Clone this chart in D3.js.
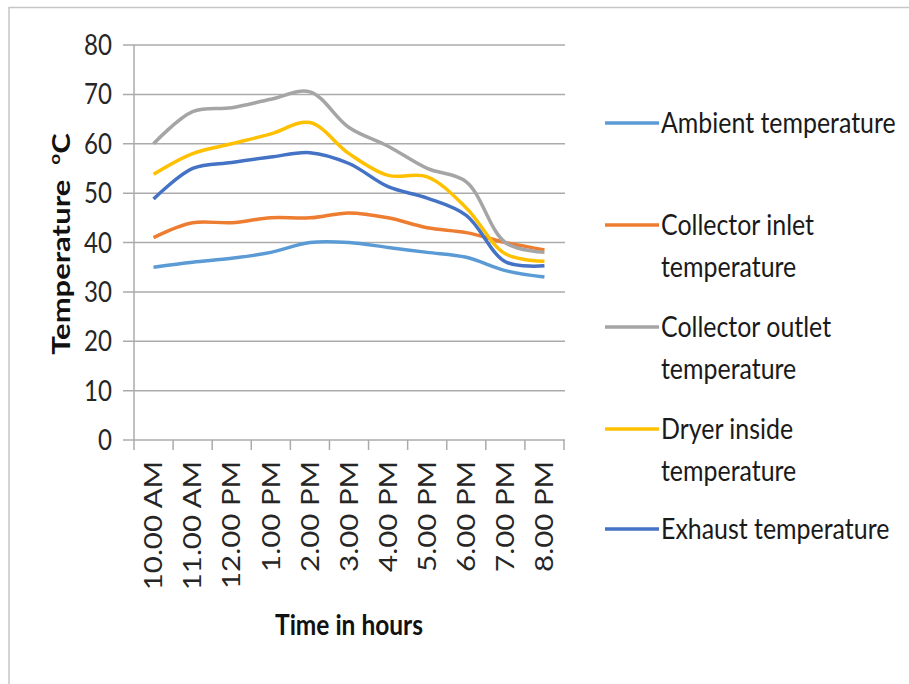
<!DOCTYPE html>
<html><head><meta charset="utf-8">
<script src="https://cdn.jsdelivr.net/npm/d3@7"></script>
<style>html,body{margin:0;padding:0;background:#fff;}svg{display:block;}</style>
</head><body>
<script>
const categories = ["10.00 AM","11.00 AM","12.00 PM","1.00 PM","2.00 PM","3.00 PM","4.00 PM","5.00 PM","6.00 PM","7.00 PM","8.00 PM"];
const ambient  = [35, 36, 36.8, 38, 40, 40, 39, 38, 37, 34.3, 33];
const inlet    = [41, 44, 44, 45, 45, 46, 45, 43, 42, 40, 38.5];
const outlet   = [60, 66.5, 67.3, 69, 70.5, 63.3, 59.5, 55, 52.3, 40, 38];
const dryer    = [53.8, 58, 60, 62, 64.3, 58, 53.6, 53.3, 47, 37.7, 36.2];
const exhaust  = [48.8, 55, 56.2, 57.3, 58.2, 56, 51.3, 49, 45.5, 36.1, 35.3];
const seriesNames = ["Ambient temperature","Collector inlet temperature","Collector outlet temperature","Dryer inside temperature","Exhaust temperature"];
const legendLines = [["Ambient temperature"],["Collector inlet","temperature"],["Collector outlet","temperature"],["Dryer inside","temperature"],["Exhaust temperature"]];
const yTicks = [0,10,20,30,40,50,60,70,80];
const colors = ["#5B9BD5","#ED7D31","#A5A5A5","#FFC000","#4472C4"];
const seriesValues = [ambient, inlet, outlet, dryer, exhaust];

const W = 909, H = 684, SX = 0.86;
const svg = d3.select("body").append("svg").attr("width", W).attr("height", H);
const font = "Lato, 'Open Sans', sans-serif";

// border
svg.append("path").attr("d", `M9,${H} L9,7.5 L${W},7.5`).attr("fill","none").attr("stroke","#c6c6c6").attr("stroke-width",1.5);

const x = d3.scaleBand().domain(categories).range([134, 564]).padding(0);
const y = d3.scaleLinear().domain([0, 80]).range([440, 45]);

// gridlines
svg.append("g").selectAll("line").data(yTicks).join("line")
  .attr("x1", 123).attr("x2", 565)
  .attr("y1", d => y(d)).attr("y2", d => y(d))
  .attr("stroke", "#ababab").attr("stroke-width", 1.5);

// y axis line
svg.append("line").attr("x1",134).attr("x2",134).attr("y1",y(80)).attr("y2",y(0)).attr("stroke","#ababab").attr("stroke-width",1.5);

// x ticks
const edges = categories.map(c => x(c)).concat([x(categories[categories.length-1]) + x.bandwidth()]);
svg.append("g").selectAll("line").data(edges).join("line")
  .attr("x1", d => d).attr("x2", d => d).attr("y1", y(0)).attr("y2", y(0) + 10)
  .attr("stroke", "#ababab").attr("stroke-width", 1.5);

// y tick labels
svg.append("g").selectAll("g").data(yTicks).join("g")
  .attr("transform", d => `translate(112,${y(d) + 10}) scale(${SX},1)`)
  .append("text").attr("text-anchor","end").attr("font-family",font).attr("font-size",28).attr("fill","#262626")
  .text(d => d);

// x tick labels
svg.append("g").selectAll("g").data(categories).join("g")
  .attr("transform", d => `translate(${x(d) + x.bandwidth()/2},461) scale(0.82,1) rotate(-90)`)
  .append("text").attr("text-anchor","end").attr("dy","0.36em").attr("font-family",font).attr("font-size",29.5).attr("fill","#262626")
  .text(d => d);

// axis titles
svg.append("g").attr("transform", `translate(349,635) scale(${SX},1)`)
  .append("text").attr("text-anchor","middle").attr("font-family",font).attr("font-weight","bold").attr("font-size",28.5).attr("fill","#111")
  .text("Time in hours");

const yt = svg.append("g").attr("transform", `translate(70,244) scale(0.8,1) rotate(-90)`)
  .append("text").attr("text-anchor","middle").attr("font-family",font).attr("font-weight","bold").attr("font-size",31).attr("fill","#111");
yt.append("tspan").text("Temperature\u00a0\u00a0");
yt.append("tspan").attr("font-size",19).attr("dy",-12).text("o");
yt.append("tspan").attr("dy",12).text("C");

// lines
const line = d3.line().x((d,i) => x(categories[i]) + x.bandwidth()/2).y(d => y(d)).curve(d3.curveCatmullRom.alpha(0.5));
svg.append("g").selectAll("path").data(seriesValues).join("path")
  .attr("d", d => line(d)).attr("fill","none").attr("stroke",(d,i)=>colors[i]).attr("stroke-width",3.5)
  .attr("stroke-linejoin","round");

// legend
const legendY = [123, 225, 327, 429, 529];
const lg = svg.append("g").selectAll("g").data(seriesNames).join("g")
  .attr("transform",(d,i)=>`translate(0,${legendY[i]})`);
lg.append("line").attr("x1",605).attr("x2",659).attr("y1",0).attr("y2",0).attr("stroke",(d,i)=>colors[i]).attr("stroke-width",3.5);
lg.each(function(d,i){
  const g = d3.select(this);
  legendLines[i].forEach((t,j)=>{
    g.append("g").attr("transform",`translate(661,${10 + j*42}) scale(0.89,1)`)
     .append("text").attr("font-family",font).attr("font-size",28).attr("fill","#1a1a1a").text(t);
  });
});
</script>
</body></html>
